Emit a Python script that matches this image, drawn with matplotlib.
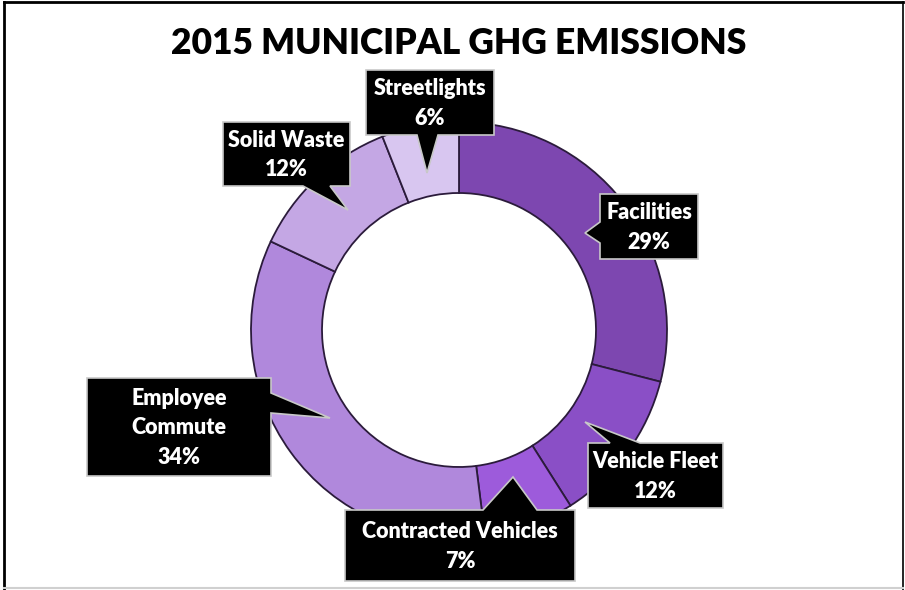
import matplotlib
matplotlib.use("Agg")
import matplotlib.pyplot as plt
from matplotlib.patches import Polygon
from matplotlib.lines import Line2D

# Emission shares by sector (percent), clockwise from 12 o'clock
categories = ["Facilities", "Vehicle Fleet", "Contracted Vehicles",
              "Employee Commute", "Solid Waste", "Streetlights"]
shares = [29, 12, 7, 34, 12, 6]
label_text = ["Facilities", "Vehicle Fleet", "Contracted Vehicles",
              "Employee\nCommute", "Solid Waste", "Streetlights"]
colors = ["#7d47b0", "#8a4fc6", "#9d5bdb", "#b088dc", "#c4a7e4", "#d8c6f0"]

W, H = 905, 590


def py(y):
    # pixel row -> data y
    return H - y


def callout(box, side, base, tip):
    """Box (x0, y0, x1, y1) in pixel coords with a pointer on one side."""
    x0, y0, x1, y1 = box
    a, b = base
    if side == "top":
        pts = [(x0, y0), (a, y0), tip, (b, y0), (x1, y0), (x1, y1), (x0, y1)]
    elif side == "bottom":
        pts = [(x0, y0), (x1, y0), (x1, y1), (b, y1), tip, (a, y1), (x0, y1)]
    elif side == "left":
        pts = [(x0, y0), (x1, y0), (x1, y1), (x0, y1), (x0, b), tip, (x0, a)]
    else:
        pts = [(x0, y0), (x1, y0), (x1, a), tip, (x1, b), (x1, y1), (x0, y1)]
    return [(x, py(y)) for x, y in pts]


# callout geometry per category (pixels)
boxes = {
    "Facilities": ((600, 194, 698, 259), "left", (222, 243), (585, 233)),
    "Vehicle Fleet": ((588, 443, 723, 508), "top", (610, 640), (585, 422)),
    "Contracted Vehicles": ((345, 510, 575, 581), "top", (483, 537), (513, 477)),
    "Employee Commute": ((87, 378, 271, 476), "right", (393, 413), (330, 418)),
    "Solid Waste": ((223, 122, 350, 186), "bottom", (303, 330), (348, 210)),
    "Streetlights": ((366, 70, 494, 135), "bottom", (417, 438), (427, 173)),
}

fig = plt.figure(figsize=(W / 100, H / 100), dpi=100)
ax = fig.add_axes([0, 0, 1, 1])
ax.set_xlim(0, W)
ax.set_ylim(0, H)
ax.set_aspect("equal")
ax.axis("off")

cx, cy, R = 459, 330, 208
ax.pie(shares, colors=colors, startangle=90, counterclock=False,
       center=(cx, py(cy)), radius=R,
       wedgeprops=dict(width=R - 137, edgecolor="#2b1b3b", linewidth=1.3))
ax.set_xlim(0, W)
ax.set_ylim(0, H)

font = ["Lato", "DejaVu Sans"]
for cat, share, txt in zip(categories, shares, label_text):
    box, side, base, tip = boxes[cat]
    ax.add_patch(Polygon(callout(box, side, base, tip), closed=True,
                         facecolor="black", edgecolor="#c8c8c8", linewidth=1.2,
                         zorder=5))
    x0, y0, x1, y1 = box
    ax.text((x0 + x1) / 2, py((y0 + y1) / 2 + 1), f"{txt}\n{share}%",
            ha="center", va="center", color="white", fontsize=15.5,
            fontweight="heavy", family=font, linespacing=1.5, zorder=6)

ax.text(459, py(43), "2015 MUNICIPAL GHG EMISSIONS", ha="center", va="center",
        fontsize=25.5, fontweight="heavy", family=font, color="black")

# outer frame
fig.add_artist(Line2D([4 / W, 4 / W], [0, 1 - 2 / H], color="black", lw=2))
fig.add_artist(Line2D([4 / W, 903 / W], [1 - 2 / H, 1 - 2 / H], color="black", lw=2))
fig.add_artist(Line2D([903 / W, 903 / W], [0, 1 - 2 / H], color="black", lw=1.2))
fig.add_artist(Line2D([4 / W, 903 / W], [2 / H, 2 / H], color="#d0d0d0", lw=1.5))

fig.savefig("out.png", dpi=100, facecolor="white")
